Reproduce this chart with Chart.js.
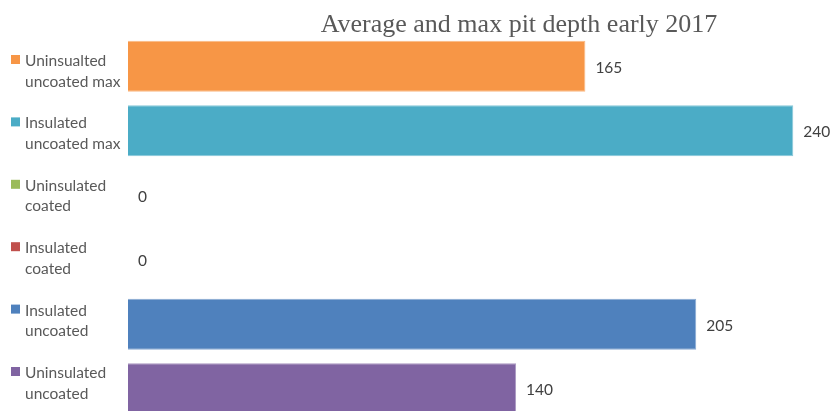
<!DOCTYPE html>
<html>
<head>
<meta charset="utf-8">
<script src="https://cdn.jsdelivr.net/npm/chart.js@4/dist/chart.umd.min.js"></script>
<style>
  html, body { margin: 0; padding: 0; background: #fff; overflow: hidden; }
  #wrap { position: relative; width: 830px; height: 425px; }
</style>
</head>
<body>
<div id="wrap"><canvas id="c" width="830" height="425"></canvas></div>
<script>
// Pit depth by test condition
const categories = [
  ['Uninsualted', 'uncoated max'],
  ['Insulated', 'uncoated max'],
  ['Uninsulated', 'coated'],
  ['Insulated', 'coated'],
  ['Insulated', 'uncoated'],
  ['Uninsulated', 'uncoated']
];
const depths = [165, 240, 0, 0, 205, 140];
const barColors = ['#F79646', '#4BACC6', '#9BBB59', '#C0504D', '#4F81BD', '#8064A2'];
const titleText = 'Average and max pit depth early 2017';

const textGrey = '#595959';
const labelFont = '15.5px Lato';

// key entries down the left side (own spacing), value labels and the title
const decorations = {
  id: 'decorations',
  afterDraw(chart) {
    const ctx = chart.ctx;
    const meta = chart.getDatasetMeta(0);
    const keyTop = 66, keyStep = 62.4, lineStep = 20.5;
    ctx.save();
    ctx.font = labelFont;
    ctx.textBaseline = 'alphabetic';
    ctx.textAlign = 'left';
    categories.forEach((lines, i) => {
      const b = keyTop + i * keyStep;
      ctx.fillStyle = barColors[i];
      ctx.fillRect(11, b - 11, 9, 9);
      ctx.fillStyle = textGrey;
      lines.forEach((line, k) => ctx.fillText(line, 25, b + k * lineStep));
    });
    ctx.fillStyle = '#404040';
    meta.data.forEach((bar, i) => {
      ctx.fillText(String(depths[i]), bar.x + 10, bar.y + 6.5);
    });
    ctx.font = '26px "Liberation Serif"';
    ctx.fillStyle = textGrey;
    ctx.textAlign = 'center';
    ctx.fillText(titleText, 519, 32);
    ctx.restore();
  }
};

new Chart(document.getElementById('c'), {
  type: 'bar',
  data: {
    labels: categories,
    datasets: [{
      data: depths,
      backgroundColor: barColors,
      borderColor: barColors.map(c => c + 'AA'),
      borderWidth: 1,
      barPercentage: 0.79,
      categoryPercentage: 1
    }]
  },
  options: {
    indexAxis: 'y',
    responsive: false,
    animation: false,
    layout: { padding: { left: 0, right: 9, top: 34, bottom: 4 } },
    plugins: {
      legend: { display: false },
      tooltip: { enabled: false },
      title: { display: false }
    },
    scales: {
      x: { display: false, min: 0, max: 250 },
      y: {
        grid: { display: false, drawTicks: false },
        border: { display: false },
        ticks: { display: false },
        afterFit(scale) {
          scale.width = 128;
          scale.paddingTop = 0;
          scale.paddingBottom = 0;
        }
      }
    }
  },
  plugins: [decorations]
});
</script>
</body>
</html>
